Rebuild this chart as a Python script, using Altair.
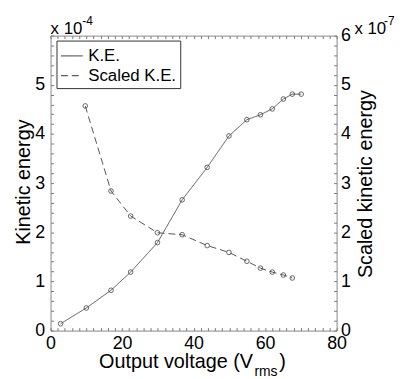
import altair as alt
import pandas as pd

# ---- data ----
voltage_ke = [2.8, 10.0, 16.9, 22.4, 29.9, 36.8, 43.8, 49.9, 54.9, 58.7, 62.0, 65.1, 67.6, 70.1]
kinetic_energy = [0.14, 0.46, 0.82, 1.19, 1.79, 2.66, 3.32, 3.96, 4.29, 4.39, 4.51, 4.71, 4.81, 4.81]  # x 1e-4
voltage_scaled = [9.7, 16.9, 22.4, 29.9, 36.8, 43.8, 49.9, 54.9, 58.7, 62.0, 65.1, 67.6]
scaled_ke = [4.57, 2.84, 2.33, 1.99, 1.95, 1.73, 1.59, 1.41, 1.27, 1.19, 1.13, 1.07]  # x 1e-7
series_names = ["K.E.", "Scaled K.E."]

x_ticks = list(range(0, 81, 2))
y_ticks = [round(i * 0.2, 1) for i in range(31)]

exp_base = "x 10"
left_exp = "-4"
right_exp = "-7"
x_title_parts = ["Output voltage (V", "rms", ")"]
left_title = "Kinetic energy"
right_title = "Scaled kinetic energy"

FONT = "Liberation Sans"
LINE = "#555555"
TICK = "#7a7a7a"

df_ke = pd.DataFrame({"v": voltage_ke, "y": kinetic_energy, "series": series_names[0]})
df_s = pd.DataFrame({"v": voltage_scaled, "y": scaled_ke, "series": series_names[1]})

xscale = alt.Scale(domain=[0, 80], nice=False, zero=False)
yscale = alt.Scale(domain=[0, 6], nice=False)

x_bottom = alt.X("v:Q", scale=xscale, axis=alt.Axis(
    orient="bottom", values=x_ticks, title=None, grid=False, domain=False,
    labelExpr="datum.value % 20 == 0 ? datum.label : ''",
    tickSize=3, offset=-3, tickColor=TICK, labelPadding=4, labelFlush=False,
    labelOverlap=False, labelFontSize=18, labelFont=FONT, labelColor="black"))
x_top = alt.X("v:Q", scale=xscale, axis=alt.Axis(
    orient="top", values=x_ticks, title=None, grid=False, domain=False,
    labels=False, tickSize=3, offset=-3, tickColor=TICK))

y_left = alt.Y("y:Q", scale=yscale, axis=alt.Axis(
    orient="left", values=y_ticks, title=None, grid=False, domain=False,
    labelExpr="(abs(datum.value - round(datum.value)) < 0.001 && datum.value < 5.5) ? format(datum.value, 'd') : ''",
    tickSize=3, offset=-3, tickColor=TICK, labelPadding=6, labelFlush=False,
    labelOverlap=False, labelFontSize=18, labelFont=FONT, labelColor="black"))
y_right = alt.Y("y:Q", scale=yscale, axis=alt.Axis(
    orient="right", values=y_ticks, title=None, grid=False, domain=False,
    labelExpr="abs(datum.value - round(datum.value)) < 0.001 ? format(datum.value, 'd') : ''",
    tickSize=3, offset=-3, tickColor=TICK, labelPadding=4, labelFlush=False,
    labelOverlap=False, labelFontSize=18, labelFont=FONT, labelColor="black"))

dash = alt.StrokeDash("series:N", scale=alt.Scale(domain=series_names, range=[[1, 0], [7, 4]]),
                      legend=alt.Legend(title=None))

ke_line = alt.Chart(df_ke).mark_line(color=LINE, strokeWidth=1).encode(x=x_bottom, y=y_left, strokeDash=dash)
ke_pts = alt.Chart(df_ke).mark_point(shape="circle", filled=False, size=22, color="#444444",
                                     strokeWidth=0.8, opacity=1).encode(x=x_bottom, y=y_left)
left = alt.layer(ke_line, ke_pts)

s_line = alt.Chart(df_s).mark_line(color=LINE, strokeWidth=1).encode(x=x_top, y=y_right, strokeDash=dash)
s_pts = alt.Chart(df_s).mark_point(shape="circle", filled=False, size=22, color="#444444",
                                   strokeWidth=0.8, opacity=1).encode(x=x_top, y=y_right)
right = alt.layer(s_line, s_pts)


def label(text, x, y, size, angle=0, align="left"):
    return alt.Chart(pd.DataFrame({"t": [text]})).mark_text(
        font=FONT, fontSize=size, color="black", align=align, baseline="alphabetic", angle=angle
    ).encode(text="t:N", x=alt.value(x), y=alt.value(y))


annotations = [
    label(exp_base, 0, -2, 17),
    label(left_exp, 32, -11, 12),
    label(exp_base, 307, -2, 17),
    label(right_exp, 337, -11, 12),
    label(x_title_parts[0], 49, 335.5, 20),
    label(x_title_parts[1], 206, 343.5, 14),
    label(x_title_parts[2], 231, 335.5, 20),
    label(left_title, -20.5, 148, 20, angle=270, align="center"),
    label(right_title, 324.5, 150, 20, angle=270, align="center"),
]

chart = alt.layer(left, right, *annotations).resolve_scale(
    y="independent"
).resolve_axis(x="independent", y="independent").properties(
    width=289, height=298,
    autosize=alt.AutoSizeParams(type="none"),
    padding={"left": 43, "top": 26, "right": 60, "bottom": 47},
).configure_view(
    stroke="#888888", strokeWidth=1
).configure_legend(
    orient="none", legendX=6, legendY=5, strokeColor="#333333", fillColor="white",
    padding=4, labelFontSize=17, labelFont=FONT, labelColor="black",
    symbolType="stroke", symbolSize=484, symbolStrokeWidth=1, symbolStrokeColor="#333333",
    rowPadding=0, labelOffset=5, cornerRadius=0
)

chart.save("out.html", embed_options={"renderer": "svg", "actions": False})
